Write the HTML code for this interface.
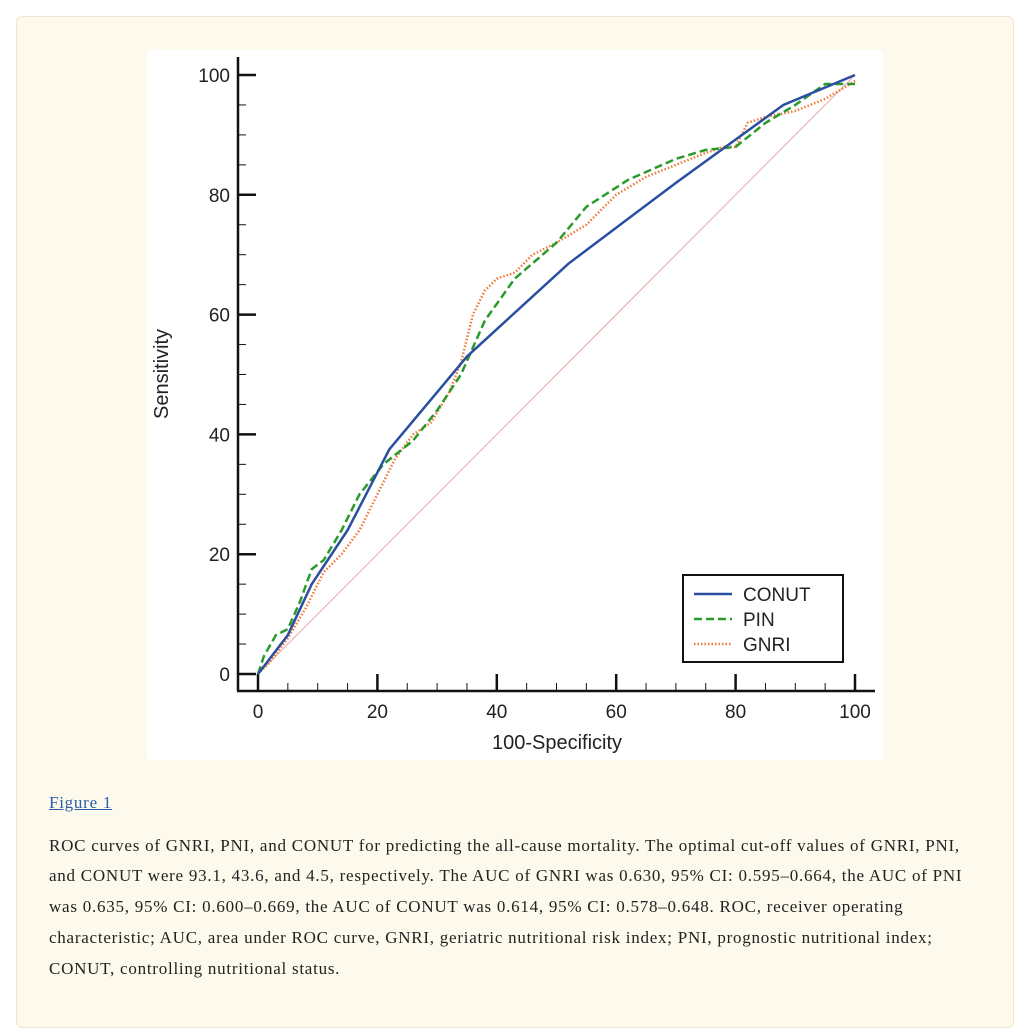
<!DOCTYPE html>
<html><head><meta charset="utf-8"><style>
body{margin:0;background:#fff;width:1024px;height:1010px;overflow:hidden;font-family:"Liberation Sans",sans-serif}
#card{position:absolute;left:16px;top:16px;width:996px;height:1010px;background:#fdf9ec;border:1px solid #efe6d0;border-radius:6px}
#fig{position:absolute;left:147px;top:50px;width:736px;height:710px;background:#fff;border-radius:4px}
#cap{position:absolute;left:49px;top:788px;width:960px;font-family:"Liberation Serif",serif;font-size:17px;letter-spacing:0.75px;color:#222;line-height:30.7px;white-space:nowrap}
#cap a{color:#2a5fa8}
</style></head><body>
<div id="card"></div>
<div id="fig"></div>
<svg id="chart" width="1024" height="1010" style="position:absolute;left:0;top:0"></svg>
<div id="cap">
<a href="#">Figure 1</a>
<p style="margin:12px 0 0">ROC curves of GNRI, PNI, and CONUT for predicting the all-cause mortality. The optimal cut-off values of GNRI, PNI,<br>and CONUT were 93.1, 43.6, and 4.5, respectively. The AUC of GNRI was 0.630, 95% CI: 0.595–0.664, the AUC of PNI<br>was 0.635, 95% CI: 0.600–0.669, the AUC of CONUT was 0.614, 95% CI: 0.578–0.648. ROC, receiver operating<br>characteristic; AUC, area under ROC curve, GNRI, geriatric nutritional risk index; PNI, prognostic nutritional index;<br>CONUT, controlling nutritional status.</p>
</div>
<script>
const xTicks=[0,20,40,60,80,100];
const yTicks=[0,20,40,60,80,100];
const conutX=[0,5,9,15,22,35,52,70,88,100];
const conutY=[0,6.5,15,24,37.5,53,68.5,82,95,100];
const pinX=[0,1,3,5,7,9,11,14,17,21,26,30,34,38,43,50,55,62,70,75,80,85,90,95,100];
const pinY=[0,3,6.5,7.5,12,17.5,19,24,30,35,39,44,50,59,66,72,78,82.5,86,87.5,88,92,95,98.5,98.5];
const gnriX=[0,2,5,8,11,14,17,20,23,26,29,32,34,36,38,40,43,46,50,55,60,65,70,75,78,80,82,85,90,95,100];
const gnriY=[0,2,6,11,17,20,24,30,36,40,42,47,52,60,64,66,67,70,72,75,80,83,85,87,88,88,92,93,94,96,99];
const X=v=>258+v*5.97, Y=v=>674-v*5.99;
const svg=document.getElementById('chart');
const NS='http://www.w3.org/2000/svg';
function mk(t,a,p){const e=document.createElementNS(NS,t);for(const k in a)e.setAttribute(k,a[k]);(p||svg).appendChild(e);return e;}
let e;
e=mk('line',{x1:238,y1:57,x2:238,y2:691,stroke:'#111','stroke-width':2.5});

e=mk('line',{x1:237,y1:691,x2:875,y2:691,stroke:'#111','stroke-width':2.5});

for(let v=0;v<=100;v+=5){const maj=v%20===0;
 e=mk('line',{x1:238,y1:Y(v),x2:maj?256:246,y2:Y(v),stroke:'#111','stroke-width':maj?2.5:1});
 
 e=mk('line',{x1:X(v),y1:691,x2:X(v),y2:maj?674:683,stroke:'#111','stroke-width':maj?2.5:1});
 }
yTicks.forEach(v=>{e=mk('text',{x:230,y:Y(v)+7,'text-anchor':'end','font-size':19,fill:'#222'});e.textContent=v;
 });
xTicks.forEach(v=>{e=mk('text',{x:X(v),y:718,'text-anchor':'middle','font-size':19,fill:'#222'});e.textContent=v;
 });
e=mk('text',{x:557,y:749,'text-anchor':'middle','font-size':20,fill:'#222'});e.textContent='100-Specificity';

e=mk('text',{x:168,y:374,'text-anchor':'middle','font-size':20,fill:'#222',transform:'rotate(-90 168 374)'});e.textContent='Sensitivity';

e=mk('line',{x1:X(0),y1:Y(0),x2:X(100),y2:Y(100),stroke:'#e8a8a8','stroke-width':1});

function pts(xs,ys){return xs.map((x,i)=>X(x)+','+Y(ys[i])).join(' ');}
e=mk('polyline',{points:pts(gnriX,gnriY),fill:'none',stroke:'#f07838','stroke-width':2.5,'stroke-dasharray':'1.5 2'});

e=mk('polyline',{points:pts(pinX,pinY),fill:'none',stroke:'#2a9a2a','stroke-width':2.5,'stroke-dasharray':'8 4'});

e=mk('polyline',{points:pts(conutX,conutY),fill:'none',stroke:'#2a4fa0','stroke-width':2.5});

const lg=mk('g',{});

mk('rect',{x:683,y:575,width:160,height:87,fill:'#fff',stroke:'#111','stroke-width':2},lg);
const L=[['CONUT','#2a4fa0',''],['PIN','#2a9a2a','8 4'],['GNRI','#f07838','1.5 2']];
L.forEach((l,i)=>{const yy=594+i*25;
 e=mk('line',{x1:694,y1:yy,x2:732,y2:yy,stroke:l[1],'stroke-width':2.5,'stroke-dasharray':l[2]},lg);
 
 e=mk('text',{x:743,y:yy+7,'font-size':19,fill:'#222'},lg);e.textContent=l[0];
 });
</script>
</body></html>
